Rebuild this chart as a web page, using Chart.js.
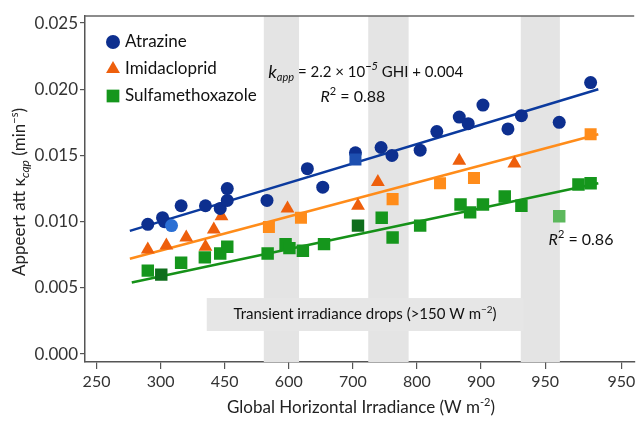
<!DOCTYPE html>
<html>
<head>
<meta charset="utf-8">
<script src="https://cdn.jsdelivr.net/npm/chart.js@4.4.1/dist/chart.umd.min.js"></script>
<style>
  html, body { margin: 0; padding: 0; background: #fff; }
  #wrap { width: 643px; height: 425px; position: relative; }
</style>
</head>
<body>
<div id="wrap"><canvas id="myChart" width="643" height="425"></canvas></div>
<script>
// x positions are in tick-slot units (0 = first tick "250", 1 = "300", ...)
const tickPos = [0, 1, 2, 3, 4, 5, 6, 7, 8.19];
const tickLabels = ['250', '300', '450', '600', '700', '800', '900', '950', '950'];
const yTicks = [0, 0.005, 0.010, 0.015, 0.020, 0.025];

const atrazineX = [0.80, 1.03, 1.06, 1.17, 1.32, 1.70, 1.93, 2.04, 2.04, 2.66, 3.29, 3.53, 4.04, 4.04, 4.44, 4.61, 5.05, 5.31, 5.66, 5.80, 6.03, 6.42, 6.63, 7.22, 7.71];
const atrazineY = [0.0098, 0.0103, 0.0100, 0.0097, 0.0112, 0.0112, 0.0110, 0.0125, 0.0116, 0.0116, 0.0140, 0.0126, 0.0152, 0.0147, 0.0156, 0.0150, 0.0154, 0.0168, 0.0179, 0.0174, 0.0188, 0.0170, 0.0180, 0.0175, 0.0205];

const imidaX = [0.80, 1.09, 1.40, 1.70, 1.83, 1.95, 2.69, 2.98, 3.19, 4.08, 4.39, 4.62, 5.36, 5.66, 5.89, 6.52, 7.71];
const imidaY = [0.0079, 0.0082, 0.0088, 0.0081, 0.0094, 0.0104, 0.0096, 0.0110, 0.0103, 0.0112, 0.0130, 0.0117, 0.0129, 0.0146, 0.0133, 0.0144, 0.0166];
const imidaShape = ['t', 't', 't', 't', 't', 't', 's', 't', 's', 't', 't', 's', 's', 't', 's', 't', 's'];

const sulfaX = [0.80, 1.01, 1.32, 1.69, 1.93, 2.04, 2.67, 2.95, 3.01, 3.22, 3.55, 4.08, 4.45, 4.62, 5.05, 5.68, 5.83, 6.03, 6.37, 6.63, 7.22, 7.52, 7.71];
const sulfaY = [0.0063, 0.0060, 0.0069, 0.0073, 0.0076, 0.0081, 0.0076, 0.0083, 0.0080, 0.0078, 0.0083, 0.0097, 0.0103, 0.0088, 0.0097, 0.0113, 0.0107, 0.0113, 0.0119, 0.0112, 0.0104, 0.0128, 0.0129];

// fitted lines (start / end)
const fitX = [0.52, 7.83];
const atrazineFit = [0.0093, 0.0200];
const imidaFit = [0.0072, 0.0166];
const sulfaFit = [0.0054, 0.0129];

// shaded transient periods (x ranges) and the label box
const bands = [[2.61, 3.16], [4.24, 4.87], [6.62, 7.23]];
const boxX = [1.72, 6.66];
const boxY = [0.00174, 0.00423];

const FONT = 'Lato, "Open Sans", sans-serif';
const blue = '#0d2f8f', orangeT = '#ee5f0c', orangeS = '#ff8c1a', green = '#15961c';

function pts(xs, ys) { return xs.map((x, i) => ({ x: x, y: ys[i] })); }

// draw text made of pieces (sub/superscripts, italics)
function drawRich(ctx, parts, x, y, align) {
    let w = 0;
    parts.forEach(p => {
        ctx.font = (p.it ? 'italic ' : '') + p.s + 'px ' + FONT;
        p.w = ctx.measureText(p.t).width;
        w += p.w;
    });
    let cx = align == 'center' ? x - w / 2 : (align == 'right' ? x - w : x);
    ctx.textAlign = 'left';
    ctx.textBaseline = 'middle';
    parts.forEach(p => {
        ctx.font = (p.it ? 'italic ' : '') + p.s + 'px ' + FONT;
        ctx.fillText(p.t, cx, y + (p.dy || 0));
        cx += p.w;
    });
}

const decor = {
    id: 'decor',
    beforeDatasetsDraw(chart) {
        const ctx = chart.ctx, xs = chart.scales.x, ys = chart.scales.y, a = chart.chartArea;
        ctx.save();
        ctx.fillStyle = '#e4e4e4';
        bands.forEach(b => {
            let x1 = xs.getPixelForValue(b[0]), x2 = xs.getPixelForValue(b[1]);
            ctx.fillRect(x1, a.top, x2 - x1, a.bottom - a.top);
        });
        let bx1 = xs.getPixelForValue(boxX[0]), bx2 = xs.getPixelForValue(boxX[1]);
        let by1 = ys.getPixelForValue(boxY[1]), by2 = ys.getPixelForValue(boxY[0]);
        ctx.fillStyle = '#e6e6e6';
        ctx.fillRect(bx1, by1, bx2 - bx1, by2 - by1);
        ctx.fillStyle = '#111';
        drawRich(ctx, [
            { t: 'Transient irradiance drops (>150 W m', s: 15 },
            { t: '\u22122', s: 10, dy: -5 },
            { t: ')', s: 15 }
        ], (bx1 + bx2) / 2, (by1 + by2) / 2, 'center');
        // top frame line
        ctx.strokeStyle = '#666';
        ctx.lineWidth = 1.5;
        ctx.beginPath();
        ctx.moveTo(a.left, a.top);
        ctx.lineTo(a.right, a.top);
        ctx.stroke();
        ctx.restore();
    },
    afterDatasetsDraw(chart) {
        const ctx = chart.ctx, xs = chart.scales.x, ys = chart.scales.y;
        ctx.save();
        ctx.fillStyle = '#111';
        drawRich(ctx, [
            { t: 'k', s: 18, it: true },
            { t: 'app', s: 11, it: true, dy: 5 },
            { t: ' = 2.2 \u00d7 10', s: 15 },
            { t: '\u22125', s: 11, it: true, dy: -6 },
            { t: ' GHI + 0.004', s: 15 }
        ], xs.getPixelForValue(4.2), ys.getPixelForValue(0.0213), 'center');
        drawRich(ctx, [
            { t: 'R', s: 16, it: true },
            { t: '2', s: 11, dy: -6 },
            { t: ' = 0.88', s: 16 }
        ], xs.getPixelForValue(4.0), ys.getPixelForValue(0.0194), 'center');
        drawRich(ctx, [
            { t: 'R', s: 16, it: true },
            { t: '2', s: 11, dy: -6 },
            { t: ' = 0.86', s: 16 }
        ], xs.getPixelForValue(7.56), ys.getPixelForValue(0.0086), 'center');

        // legend
        const a = chart.chartArea;
        const items = [['Atrazine', blue, 'circle', 7], ['Imidacloprid', orangeT, 'triangle', 8], ['Sulfamethoxazole', green, 'rect', 9]];
        items.forEach((it, i) => {
            let ly = a.top + 26 + i * 27;
            ctx.fillStyle = it[1];
            Chart.helpers.drawPoint(ctx, { pointStyle: it[2], rotation: 0, borderWidth: 0, radius: it[3] }, a.left + 28, ly);
            ctx.fillStyle = '#111';
            drawRich(ctx, [{ t: it[0], s: 17 }], a.left + 40, ly, 'left');
        });

        // axis titles
        ctx.fillStyle = '#222';
        drawRich(ctx, [
            { t: 'Global Horizontal Irradiance (W m', s: 17 },
            { t: '-2', s: 11, dy: -6 },
            { t: ')', s: 17 }
        ], 361, 408, 'center');
        ctx.translate(20, 192);
        ctx.rotate(-Math.PI / 2);
        drawRich(ctx, [
            { t: 'Appeert att \u03ba', s: 17 },
            { t: 'cqp', s: 12, it: true, dy: 5 },
            { t: ' (min', s: 17 },
            { t: '\u2212s', s: 11, dy: -6 },
            { t: ')', s: 17 }
        ], 0, 0, 'center');
        ctx.restore();
    }
};

const atrazineStyle = atrazineX.map((v, i) => i == 13 ? 'rect' : 'circle');
const atrazineColor = atrazineX.map((v, i) => i == 3 ? '#2b6fd4' : (i == 13 ? '#1d4fb0' : blue));
const sulfaColor = sulfaX.map((v, i) => (i == 1 || i == 11) ? '#0f6e1c' : (i == 20 ? '#5cb85c' : green));

const ctx = document.getElementById('myChart').getContext('2d');
const chart = new Chart(ctx, {
    type: 'scatter',
    data: {
        datasets: [
            {
                label: 'Atrazine', data: pts(atrazineX, atrazineY), order: 0,
                pointStyle: atrazineStyle, backgroundColor: atrazineColor,
                pointRadius: atrazineStyle.map(s => s == 'rect' ? 8.5 : 6.5), pointBorderWidth: 0
            },
            {
                label: 'Imidacloprid', data: pts(imidaX, imidaY), order: 1,
                pointStyle: imidaShape.map(s => s == 't' ? 'triangle' : 'rect'),
                backgroundColor: imidaShape.map(s => s == 't' ? orangeT : orangeS),
                pointRadius: imidaShape.map(s => s == 't' ? 8 : 8.5), pointBorderWidth: 0
            },
            {
                label: 'Sulfamethoxazole', data: pts(sulfaX, sulfaY), order: 2,
                pointStyle: 'rect', backgroundColor: sulfaColor, pointRadius: 8.8, pointBorderWidth: 0
            },
            { label: 'fitA', data: pts(fitX, atrazineFit), showLine: true, pointRadius: 0, borderColor: '#0b3a9e', borderWidth: 2.5, order: 10 },
            { label: 'fitI', data: pts(fitX, imidaFit), showLine: true, pointRadius: 0, borderColor: '#ff8c1a', borderWidth: 2.5, order: 10 },
            { label: 'fitS', data: pts([0.55, 7.83], sulfaFit), showLine: true, pointRadius: 0, borderColor: '#159118', borderWidth: 2.5, order: 10 }
        ]
    },
    options: {
        responsive: false,
        animation: false,
        layout: { padding: { top: 16, right: 0, left: 0, bottom: 0 } },
        plugins: { legend: { display: false }, tooltip: { enabled: false } },
        scales: {
            x: {
                type: 'linear', min: -0.18, max: 8.39,
                afterBuildTicks: s => { s.ticks = tickPos.map(v => ({ value: v })); },
                afterFit: s => { s.height = 63; },
                grid: { drawOnChartArea: false, tickLength: 7, color: '#555', lineWidth: 1.2 },
                border: { color: '#555', width: 1.5 },
                ticks: { padding: 3, color: '#333', font: { family: FONT, size: 16 }, callback: (v, i) => tickLabels[i] }
            },
            y: {
                min: -0.0006, max: 0.02553,
                afterBuildTicks: s => { s.ticks = yTicks.map(v => ({ value: v })); },
                afterFit: s => { s.width = 85; },
                grid: { drawOnChartArea: false, tickLength: 5, color: '#555', lineWidth: 1.2 },
                border: { color: '#555', width: 1.5 },
                ticks: { padding: 2, color: '#333', font: { family: FONT, size: 17 }, callback: v => v.toFixed(3) }
            }
        }
    },
    plugins: [decor]
});
</script>
</body>
</html>
